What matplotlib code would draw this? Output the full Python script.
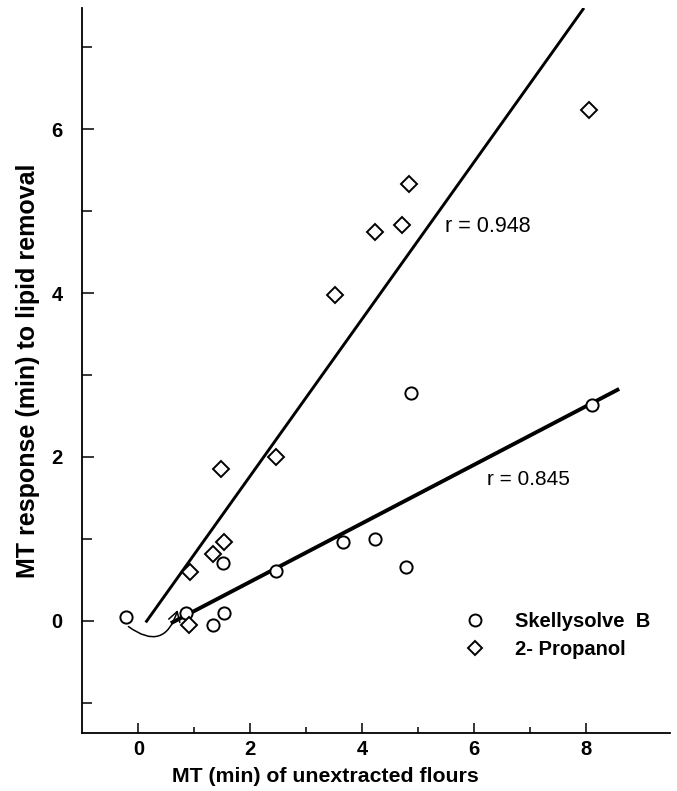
import matplotlib
matplotlib.use("Agg")
import matplotlib.pyplot as plt
from matplotlib.lines import Line2D

# ---- data ----
skelly_x = [-0.23, 0.85, 1.34, 1.53, 1.51, 2.46, 3.66, 4.24, 4.87, 4.79, 8.12]
skelly_y = [0.05, 0.10, -0.05, 0.10, 0.71, 0.61, 0.96, 1.00, 2.78, 0.66, 2.64]
prop_x = [0.91, 0.93, 1.34, 1.53, 1.48, 2.46, 3.52, 4.23, 4.71, 4.84, 8.06]
prop_y = [-0.05, 0.59, 0.81, 0.96, 1.85, 2.00, 3.98, 4.74, 4.83, 5.33, 6.24]

# regression line end points
fit_prop_x = [0.13, 7.97]
fit_prop_y = [-0.02, 7.48]
fit_skelly_x = [0.58, 8.60]
fit_skelly_y = [-0.03, 2.83]

r_prop = "r = 0.948"
r_skelly = "r = 0.845"

x_major = [0, 2, 4, 6, 8]
x_minor = [1, 3, 5, 7]
y_major = [0, 2, 4, 6]
y_minor = [-1, 1, 3, 5, 7]

plt.rcParams['font.family'] = ['Liberation Sans', 'DejaVu Sans']

fig = plt.figure(figsize=(6.77, 7.91), dpi=100)
ax = fig.add_axes([0.1211, 0.0733, 0.8686, 0.9166])

ax.set_xlim(-1.01, 9.51)
ax.set_ylim(-1.37, 7.48)

ax.plot(fit_prop_x, fit_prop_y, color='black', lw=2.1, solid_capstyle='butt', zorder=2)
ax.plot(fit_skelly_x, fit_skelly_y, color='black', lw=2.8, solid_capstyle='butt', zorder=2)

ax.plot(skelly_x, skelly_y, linestyle='none', marker='o', ms=8.8,
        mfc='white', mec='black', mew=1.4, zorder=3)
ax.plot(prop_x, prop_y, linestyle='none', marker='D', ms=7.8,
        mfc='white', mec='black', mew=1.4, zorder=3)

# curved arrow from the off-axis point
ax.annotate('', xy=(0.70, 0.13), xytext=(-0.18, -0.07),
            arrowprops=dict(arrowstyle='->,head_length=0.5,head_width=0.3', color='black', lw=1.1,
                            connectionstyle='arc3,rad=0.7',
                            mutation_scale=14, shrinkA=0, shrinkB=0), zorder=4)

ax.text(5.48, 4.81, r_prop, fontsize=15.5, va='center', ha='left')
ax.text(6.23, 1.72, r_skelly, fontsize=15, va='center', ha='left')

handles = [Line2D([], [], linestyle='none', marker='o', ms=8.6, mfc='white', mec='black', mew=1.4),
           Line2D([], [], linestyle='none', marker='D', ms=7.6, mfc='white', mec='black', mew=1.4)]
leg = ax.legend(handles, ['Skellysolve  B', '2- Propanol'], frameon=False,
                loc='center left', bbox_to_anchor=(0.62, 0.135),
                prop={'size': 14.5, 'weight': 'bold'}, handletextpad=1.5,
                labelspacing=0.45, handlelength=1.0)

# spines
for s in ['top', 'right']:
    ax.spines[s].set_visible(False)
ax.spines['left'].set_linewidth(1.3)
ax.spines['bottom'].set_linewidth(1.3)

ax.set_xticks(x_major)
ax.set_xticks(x_minor, minor=True)
ax.set_yticks(y_major)
ax.set_yticks(y_minor, minor=True)
ax.tick_params(axis='x', which='major', direction='in', length=7.5, width=1.1, pad=5,
               labelsize=14.5)
ax.tick_params(axis='x', which='minor', direction='in', length=4.5, width=1.1)
ax.tick_params(axis='y', which='major', direction='in', length=8.5, width=1.1, pad=14,
               labelsize=14.5)
ax.tick_params(axis='y', which='minor', direction='in', length=7, width=1.1)
for lab in ax.get_xticklabels() + ax.get_yticklabels():
    lab.set_fontweight('bold')

ax.set_xlabel('MT (min) of unextracted flours', fontsize=15.3, fontweight='bold')
ax.xaxis.set_label_coords(0.414, -0.047)
ax.set_ylabel('MT response (min) to lipid removal', fontsize=18, fontweight='bold', labelpad=8)

fig.savefig('out.png', dpi=100)
